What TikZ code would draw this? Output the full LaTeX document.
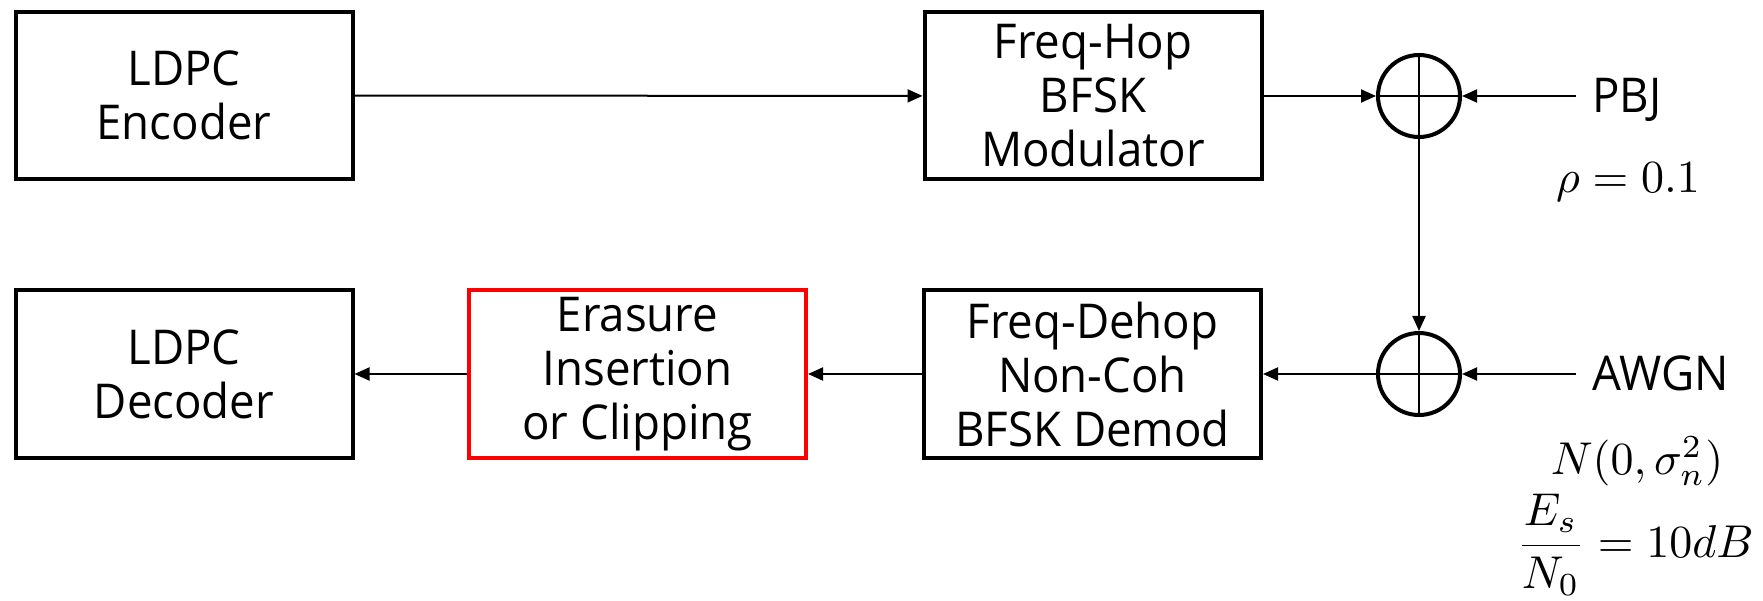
\documentclass[tikz,border=0pt]{standalone}
\usepackage{amsmath}
\usepackage{graphicx}
\usepackage{fontspec}
\setmainfont[FakeStretch=0.95]{Open Sans}
\usetikzlibrary{arrows.meta}

\newcommand{\bigmath}[1]{\scalebox{4.6}{$#1$}}

\begin{document}
\begin{tikzpicture}[x=1pt,y=-1pt,
  blocktext/.style={font=\fontsize{48}{54}\selectfont},
  block/.style={draw, line width=4pt, inner sep=0pt, align=center,
    minimum width=337pt, minimum height=167pt, blocktext},
  redblock/.style={block, draw=red},
  summer/.style={draw, circle, line width=4pt, minimum size=82pt, inner sep=0pt},
  cross/.style={line width=1.6pt},
  conn/.style={line width=2pt, -{Triangle[length=15pt,width=13pt]}},
  lbl/.style={inner sep=0pt, blocktext},
  mathlbl/.style={inner sep=0pt}
]
\useasboundingbox (0,0) rectangle (1763,601);

% transmitter chain
\node[block] (enc) at (184,95.5) {LDPC\\Encoder};
\node[block] (mod) at (1093,96) {Freq-Hop\\BFSK\\Modulator};

% receiver chain
\node[block] (dec) at (184,374) {LDPC\\Decoder};
\node[redblock] (era) at (637.5,374) {Erasure\\Insertion\\or Clipping};
\node[block] (dem) at (1092.5,374) {Freq-Dehop\\Non-Coh\\BFSK Demod};

% channel adders
\node[summer] (s1) at (1419,96) {};
\node[summer] (s2) at (1419,374) {};
\foreach \s in {s1,s2} {
  \draw[cross] (\s.north) -- (\s.south);
  \draw[cross] (\s.west) -- (\s.east);
}

% interference and noise sources
\coordinate (pbjin) at (1576,96);
\coordinate (awgnin) at (1576,374);
\node[lbl, anchor=base west] (pbj) at (1592,113) {PBJ};
\node[lbl, anchor=base west] (awgn) at (1592,390) {AWGN};
\node[mathlbl, anchor=base] (rho) at (1628,193) {\bigmath{\rho = 0.1}};
\node[mathlbl, anchor=base] (nvar) at (1637,474) {\bigmath{N(0,\sigma_n^2)}};
\node[mathlbl, anchor=base] (snr) at (1635,557) {\bigmath{\dfrac{E_s}{N_0} = 10dB}};

% connectors
\draw[conn] (enc) -- (mod);
\draw[conn] (mod) -- (s1);
\draw[conn] (pbjin) -- (s1);
\draw[conn] (s1) -- (s2);
\draw[conn] (awgnin) -- (s2);
\draw[conn] (s2) -- (dem);
\draw[conn] (dem) -- (era);
\draw[conn] (era) -- (dec);
\end{tikzpicture}
\end{document}
